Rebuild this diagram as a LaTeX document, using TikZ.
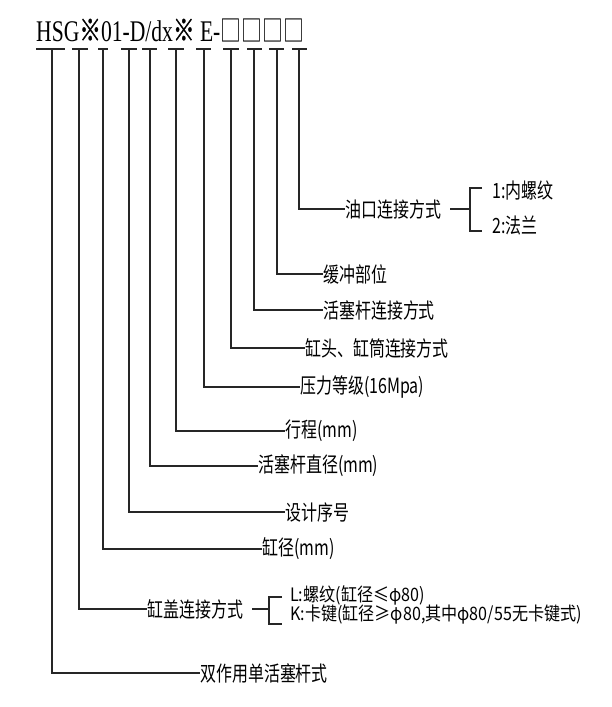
\documentclass[tikz,border=0pt]{standalone}
\usepackage{fontspec}
\setmainfont{Liberation Serif}
\newfontfamily\cjk{Noto Sans CJK SC}
\newfontfamily\cjkb[FakeBold=1.5]{Noto Sans CJK SC}
\newcommand\T[1]{\scalebox{0.76}[1]{\fontsize{21}{21}\selectfont\cjk #1}}
\newcommand\TS[1]{\scalebox{0.87}[1]{\fontsize{18.5}{18.5}\selectfont\cjk #1}}
\begin{document}
\begin{tikzpicture}[x=1pt,y=-1pt,
  ln/.style={line width=1.1pt, black!85},
  lab/.style={anchor=west, inner sep=0pt}]
\useasboundingbox (0,0) rectangle (612,707);
% title
\node[anchor=base west, inner sep=0pt] (title) at (36,41)
  {\scalebox{0.72}[1]{\fontsize{30}{30}\selectfont HSG{\fontsize{30}{30}\selectfont\cjkb ※}01-D/dx{\fontsize{30}{30}\selectfont\cjkb ※}\ E-{\fontsize{29}{29}\selectfont\cjk □□□□}}};
% ticks
\foreach \i/\vx/\a/\b in {1/52/36/65, 2/79/72/88, 3/103/98/108, 4/129/121/137,
  5/150/142/157, 6/176/168/184, 7/204/196/211, 8/231/223/239, 9/254/247/262,
  10/277/269/284, 11/299/292/307}{
  \coordinate (k\i) at (\vx,49);
  \coordinate (ka\i) at (\a,49);
  \coordinate (kb\i) at (\b,49);
  \draw[ln] (ka\i) -- (kb\i);
}
% labels
\node[lab] (l1) at (200,673) {\T{双作用单活塞杆式}};
\node[lab] (l2) at (147,609) {\T{缸盖连接方式}};
\node[lab] (l3) at (262,549) {\T{缸径(mm)}};
\node[lab] (l4) at (285,512) {\T{设计序号}};
\node[lab] (l5) at (258,466) {\T{活塞杆直径(mm)}};
\node[lab] (l6) at (285,431) {\T{行程(mm)}};
\node[lab] (l7) at (300,387) {\T{压力等级(16Mpa)}};
\node[lab] (l8) at (305,348) {\T{缸头、缸筒连接方式}};
\node[lab] (l9) at (323,310) {\T{活塞杆连接方式}};
\node[lab] (l10) at (323,274) {\T{缓冲部位}};
\node[lab] (l11) at (345,209) {\T{油口连接方式}};
\foreach \i in {1,...,11}{ \draw[ln] (k\i) |- (l\i.west); }
% oil port bracket
\coordinate (b1) at (470,209);
\coordinate (b1t) at (470,188);
\coordinate (b1b) at (470,231);
\draw[ln] ([xshift=9pt]l11.east) -- (b1);
\draw[ln] ([xshift=12pt]b1t) -- (b1t) -- (b1b) -- ([xshift=12pt]b1b);
\node[lab] (o1) at (492,191) {\T{1:内螺纹}};
\node[lab] (o2) at (492,226) {\T{2:法兰}};
% cover bracket
\coordinate (b2) at (269,609);
\coordinate (b2t) at (269,597);
\coordinate (b2b) at (269,624);
\draw[ln] ([xshift=9pt]l2.east) -- (b2);
\draw[ln] ([xshift=13pt]b2t) -- (b2t) -- (b2b) -- ([xshift=13pt]b2b);
\node[lab] (c1) at (290,595) {\TS{L:螺纹(缸径≤φ80)}};
\node[lab] (c2) at (290,614) {\TS{K:卡键(缸径≥φ80,其中φ80/55无卡键式)}};
\end{tikzpicture}
\end{document}
